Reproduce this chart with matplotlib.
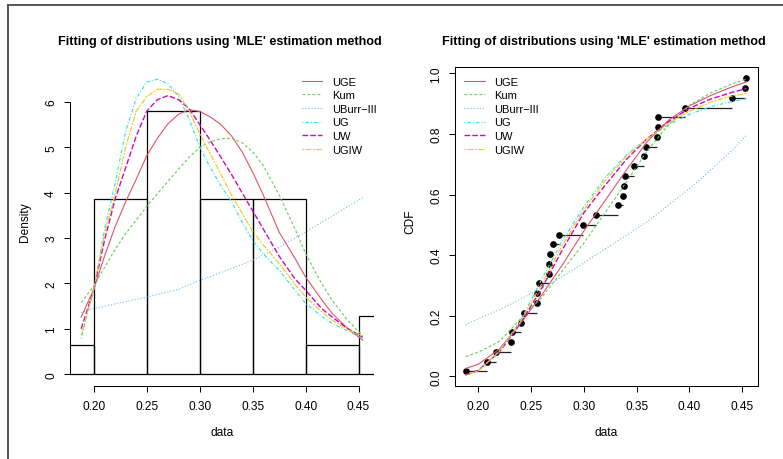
import numpy as np
import matplotlib
matplotlib.use("Agg")
import matplotlib.pyplot as plt
from matplotlib.lines import Line2D

plt.rcParams['font.family'] = ['Liberation Sans', 'DejaVu Sans']
plt.rcParams['lines.scale_dashes'] = False

# observed sample (sorted), n = 31
data = [0.1884, 0.2080, 0.2168, 0.2307, 0.2316, 0.2404, 0.2433, 0.2553, 0.2553,
        0.2578, 0.2667, 0.2672, 0.2679, 0.2704, 0.2767, 0.2988, 0.3112, 0.3320,
        0.3373, 0.3377, 0.3389, 0.3477, 0.3572, 0.3588, 0.3695, 0.3704, 0.3704,
        0.3957, 0.4405, 0.4528, 0.4538]
breaks = [0.15, 0.20, 0.25, 0.30, 0.35, 0.40, 0.45, 0.50]

names = ["UGE", "Kum", "UBurr\u2212III", "UG", "UW", "UGIW"]

# fitted densities
dens_x = [0.188, 0.20, 0.21, 0.22, 0.23, 0.24, 0.25, 0.26, 0.27, 0.28, 0.29, 0.30,
          0.31, 0.32, 0.33, 0.34, 0.35, 0.36, 0.375, 0.39, 0.40, 0.415, 0.425, 0.44, 0.454]
dens_uge = [1.26, 1.88, 2.6, 3.25, 3.8, 4.3, 4.82, 5.2, 5.52, 5.73, 5.83, 5.79,
            5.67, 5.5, 5.25, 4.9, 4.45, 3.95, 3.13, 2.55, 2.14, 1.65, 1.34, 1.0, 0.75]
dens_kum = [1.58, 1.95, 2.35, 2.75, 3.1, 3.4, 3.7, 3.98, 4.25, 4.52, 4.78, 5.0,
            5.12, 5.19, 5.2, 5.1, 4.9, 4.6, 3.95, 3.2, 2.66, 2.0, 1.63, 1.18, 0.85]
dens_uburr = [1.36, 1.45, 1.5, 1.55, 1.6, 1.65, 1.70, 1.76, 1.81, 1.87, 1.97, 2.07,
              2.15, 2.24, 2.33, 2.42, 2.51, 2.63, 2.80, 3.0, 3.13, 3.35, 3.48, 3.7, 3.89]
dens_ug = [0.79, 1.88, 3.2, 4.2, 5.35, 6.08, 6.44, 6.50, 6.40, 6.12, 5.62, 5.0,
           4.55, 4.15, 3.8, 3.35, 2.95, 2.65, 2.29, 1.85, 1.56, 1.28, 1.12, 0.95, 0.80]
dens_uw = [1.0, 1.88, 2.95, 3.86, 4.55, 5.25, 5.8, 6.05, 6.14, 6.05, 5.85, 5.5,
           5.15, 4.78, 4.4, 4.0, 3.6, 3.2, 2.6, 2.1, 1.85, 1.45, 1.26, 1.0, 0.82]
dens_ugiw = [0.87, 1.88, 3.1, 3.98, 5.0, 5.8, 6.12, 6.28, 6.28, 6.18, 5.8, 5.3,
             4.85, 4.4, 3.95, 3.55, 3.15, 2.85, 2.44, 1.98, 1.70, 1.38, 1.19, 0.98, 0.84]

# fitted CDFs
cdf_x = [0.188, 0.20, 0.22, 0.24, 0.26, 0.28, 0.30, 0.32, 0.34, 0.36, 0.38, 0.40, 0.42, 0.44, 0.454]
cdf_uge = [0.026, 0.04, 0.09, 0.175, 0.268, 0.37, 0.48, 0.58, 0.68, 0.775, 0.845, 0.893, 0.927, 0.955, 0.972]
cdf_kum = [0.065, 0.08, 0.115, 0.19, 0.26, 0.35, 0.44, 0.54, 0.64, 0.745, 0.83, 0.895, 0.935, 0.965, 0.981]
cdf_uburr = [0.17, 0.19, 0.22, 0.255, 0.29, 0.33, 0.375, 0.42, 0.465, 0.51, 0.565, 0.62, 0.68, 0.745, 0.796]
cdf_ug = [0.002, 0.018, 0.085, 0.185, 0.32, 0.45, 0.56, 0.655, 0.73, 0.785, 0.83, 0.865, 0.89, 0.907, 0.917]
cdf_uw = [0.005, 0.02, 0.08, 0.175, 0.29, 0.42, 0.54, 0.63, 0.715, 0.785, 0.84, 0.885, 0.915, 0.937, 0.95]
cdf_ugiw = [0.003, 0.018, 0.082, 0.18, 0.305, 0.435, 0.55, 0.645, 0.725, 0.785, 0.835, 0.875, 0.905, 0.925, 0.934]

dens_all = [dens_uge, dens_kum, dens_uburr, dens_ug, dens_uw, dens_ugiw]
cdf_all = [cdf_uge, cdf_kum, cdf_uburr, cdf_ug, cdf_uw, cdf_ugiw]

colors = ["#DF536B", "#61D04F", "#5AB4EE", "#28E2E5", "#CD0BBC", "#F5C710"]
dashes = [None, (2.0, 1.6), (0.7, 1.5), (0.7, 1.4, 2.6, 1.4), (4.0, 1.6), (1.4, 1.0, 4.0, 1.0)]
widths = [0.8, 0.8, 0.8, 0.8, 1.0, 0.8]

xticks = [0.20, 0.25, 0.30, 0.35, 0.40, 0.45]
xticklabels = ["0.20", "0.25", "0.30", "0.35", "0.40", "0.45"]
title = "Fitting of distributions using 'MLE' estimation method"

W, H = 783, 460
fig = plt.figure(figsize=(W / 100, H / 100), dpi=100)


def draw_line(ax, x, y, i):
    if dashes[i] is None:
        ax.plot(x, y, color=colors[i], lw=widths[i], ls='-')
    else:
        ax.plot(x, y, color=colors[i], lw=widths[i], dashes=dashes[i])


def style_ticks(ax):
    ax.tick_params(axis='both', length=4.3, width=0.75, labelsize=8.6, direction='out')
    ax.tick_params(axis='x', pad=6)
    ax.tick_params(axis='y', pad=5)
    for lab in ax.get_yticklabels():
        lab.set_rotation(90)
        lab.set_va('center')


def add_legend(ax, x0, y0):
    handles = []
    for i in range(6):
        if dashes[i] is None:
            h = Line2D([], [], color=colors[i], lw=widths[i], ls='-')
        else:
            h = Line2D([], [], color=colors[i], lw=widths[i], dashes=dashes[i])
        handles.append(h)
    ax.legend(handles, names, loc='upper left', bbox_to_anchor=(x0 / W, 1 - y0 / H),
              bbox_transform=fig.transFigure, frameon=False, fontsize=8,
              borderpad=0, borderaxespad=0, handlelength=1.85, handletextpad=0.9,
              labelspacing=0.33)


# left panel: histogram with fitted densities
ax1 = fig.add_axes([70 / W, (H - 387) / H, 304 / W, 319 / H])
ax1.hist(data, bins=breaks, density=True, facecolor='none', edgecolor='black', linewidth=0.9)
for i in range(6):
    draw_line(ax1, dens_x, dens_all[i], i)
ax1.set_xlim(0.1774, 0.4646)
ax1.set_ylim(-0.26, 6.77)
for s in ['top', 'right']:
    ax1.spines[s].set_visible(False)
ax1.spines['left'].set_bounds(0, 6)
ax1.spines['bottom'].set_bounds(0.20, 0.45)
for s in ['left', 'bottom']:
    ax1.spines[s].set_linewidth(0.75)
ax1.set_xticks(xticks)
ax1.set_xticklabels(xticklabels)
ax1.set_yticks([0, 1, 2, 3, 4, 5, 6])
ax1.set_yticklabels(["0", "1", "2", "3", "4", "5", "6"])
style_ticks(ax1)
add_legend(ax1, 301.5, 77.5)

# right panel: empirical and fitted CDFs
n = len(data)
pp = (np.arange(1, n + 1) - 0.5) / n
ax2 = fig.add_axes([455 / W, (H - 386.7) / H, 302.7 / W, 319 / H])
ax2.hlines(pp[:-1], data[:-1], data[1:], colors='#222222', lw=0.9)
ax2.plot(data, pp, 'o', color='black', ms=3.8)
for i in range(6):
    draw_line(ax2, cdf_x, cdf_all[i], i)
ax2.set_xlim(0.1779, 0.4646)
ax2.set_ylim(-0.031, 1.022)
for s in ax2.spines.values():
    s.set_linewidth(0.75)
ax2.set_xticks(xticks)
ax2.set_xticklabels(xticklabels)
ax2.set_yticks([0.0, 0.2, 0.4, 0.6, 0.8, 1.0])
ax2.set_yticklabels(["0.0", "0.2", "0.4", "0.6", "0.8", "1.0"])
style_ticks(ax2)
add_legend(ax2, 464, 77.5)

# titles and axis labels
fig.text(220 / W, 1 - 41.7 / H, title, ha='center', va='center', fontsize=9.1, fontweight='bold')
fig.text(604 / W, 1 - 41.7 / H, title, ha='center', va='center', fontsize=9.1, fontweight='bold')
fig.text(222 / W, 1 - 433 / H, "data", ha='center', va='center', fontsize=8.6)
fig.text(606 / W, 1 - 433 / H, "data", ha='center', va='center', fontsize=8.6)
fig.text(25 / W, 1 - 222 / H, "Density", ha='center', va='center', fontsize=8.6, rotation=90)
fig.text(410 / W, 1 - 222 / H, "CDF", ha='center', va='center', fontsize=8.6, rotation=90)

# outer frame
fig.add_artist(Line2D([8.3 / W, 8.3 / W], [0, 1 - 5.5 / H], transform=fig.transFigure,
                      color='#555555', lw=1.4))
fig.add_artist(Line2D([8.3 / W, 1], [1 - 5.5 / H, 1 - 5.5 / H], transform=fig.transFigure,
                      color='#555555', lw=1.4))

fig.savefig("out.png", dpi=100)
